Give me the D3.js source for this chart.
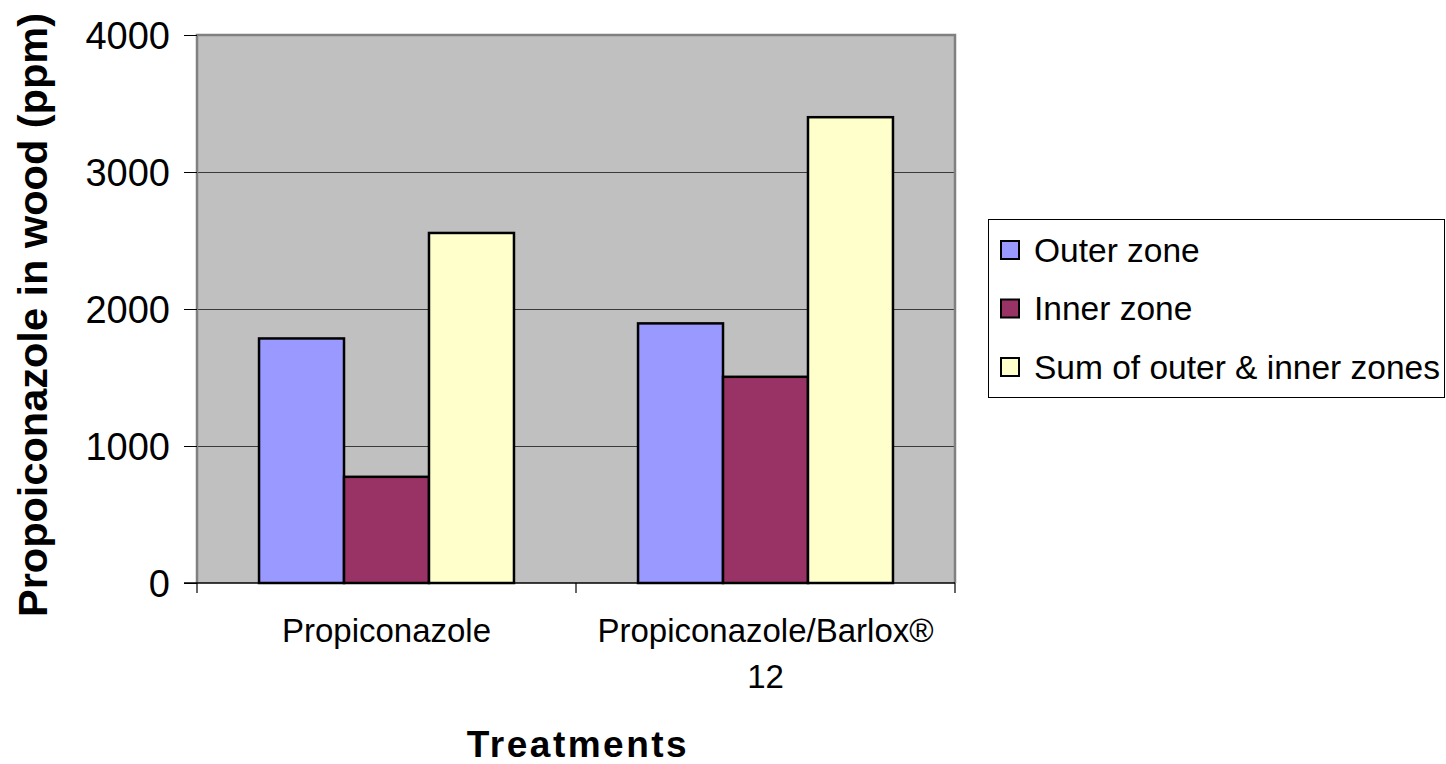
<!DOCTYPE html>
<html>
<head>
<meta charset="utf-8">
<script src="https://cdn.jsdelivr.net/npm/d3@7"></script>
<style>
  html, body { margin: 0; padding: 0; background: #fff; }
  svg { display: block; font-family: "Liberation Sans", Arial, sans-serif; }
</style>
</head>
<body>
<svg id="chart" width="1446" height="764"></svg>
<script>
// Treatments on the x axis and the three measured series
const treatments = ["Propiconazole", "Propiconazole/Barlox® 12"];
const treatmentLines = [["Propiconazole"], ["Propiconazole/Barlox®", "12"]];
const seriesNames = ["Outer zone", "Inner zone", "Sum of outer & inner zones"];
const seriesColors = ["#9999FF", "#993366", "#FFFFCC"];
const outerZone = [1785, 1895];
const innerZone = [775, 1505];
const sumZones = [2555, 3400];
const yTicks = [0, 1000, 2000, 3000, 4000];

const seriesValues = [outerZone, innerZone, sumZones];

const svg = d3.select("#chart");
const plot = { left: 197, right: 955, top: 35, bottom: 583 };

const x0 = d3.scaleBand().domain(treatments).range([plot.left, plot.right]).padding(0);
const x1 = d3.scaleBand().domain(seriesNames).range([0, x0.bandwidth()])
  .paddingInner(0).paddingOuter(0.73);
const y = d3.scaleLinear().domain([0, 4000]).range([plot.bottom, plot.top]);

// plot background
svg.append("rect")
  .attr("x", plot.left).attr("y", plot.top)
  .attr("width", plot.right - plot.left).attr("height", plot.bottom - plot.top)
  .attr("fill", "#C0C0C0");

// horizontal gridlines
svg.append("g").selectAll("line")
  .data(yTicks.filter(t => t > 0 && t < 4000))
  .join("line")
  .attr("x1", plot.left).attr("x2", plot.right)
  .attr("y1", d => Math.round(y(d)) + 0.5).attr("y2", d => Math.round(y(d)) + 0.5)
  .attr("stroke", "#3a3a3a").attr("stroke-width", 1);

// plot frame (top / right / left in grey)
svg.append("path")
  .attr("d", `M${plot.left},${plot.bottom} V${plot.top} H${plot.right} V${plot.bottom}`)
  .attr("fill", "none").attr("stroke", "#808080").attr("stroke-width", 2.5);

// bars
const groups = svg.append("g").selectAll("g")
  .data(treatments)
  .join("g")
  .attr("transform", d => `translate(${x0(d)},0)`);

groups.selectAll("rect")
  .data((d, i) => seriesNames.map((s, k) => ({ s, k, v: seriesValues[k][i] })))
  .join("rect")
  .attr("x", d => x1(d.s))
  .attr("width", x1.bandwidth())
  .attr("y", d => y(d.v))
  .attr("height", d => y(0) - y(d.v))
  .attr("fill", d => seriesColors[d.k])
  .attr("stroke", "#000").attr("stroke-width", 2.5);

// y axis
const yAxis = d3.axisLeft(y).tickValues(yTicks).tickFormat(d3.format("d"))
  .tickSize(13).tickPadding(14).tickSizeOuter(0);
const gy = svg.append("g").attr("transform", `translate(${plot.left},0)`).call(yAxis);
gy.select(".domain").remove();
gy.selectAll(".tick line").attr("stroke", "#000");
gy.selectAll(".tick text")
  .attr("font-family", "Liberation Sans, Arial, sans-serif")
  .attr("font-size", 38).attr("fill", "#000").attr("dy", "0.35em");

// x axis line and ticks at band boundaries
svg.append("line")
  .attr("x1", plot.left - 13).attr("x2", plot.right)
  .attr("y1", plot.bottom).attr("y2", plot.bottom)
  .attr("stroke", "#000").attr("stroke-width", 1.5);
const xBounds = treatments.map(t => x0(t)).concat([plot.right]);
svg.append("g").selectAll("line")
  .data(xBounds)
  .join("line")
  .attr("x1", d => d).attr("x2", d => d)
  .attr("y1", plot.bottom).attr("y2", plot.bottom + 10)
  .attr("stroke", "#000").attr("stroke-width", 1.2);

// category labels
svg.append("g").selectAll("text")
  .data(treatments)
  .join("text")
  .attr("x", d => x0(d) + x0.bandwidth() / 2)
  .attr("y", 642)
  .attr("text-anchor", "middle")
  .attr("font-size", 33)
  .attr("fill", "#000")
  .each(function (d, i) {
    d3.select(this).selectAll("tspan")
      .data(treatmentLines[i])
      .join("tspan")
      .attr("x", x0(d) + x0.bandwidth() / 2)
      .attr("dy", (l, j) => j === 0 ? 0 : 46)
      .text(l => l);
  });

// axis titles
svg.append("text")
  .attr("x", 578).attr("y", 757)
  .attr("text-anchor", "middle")
  .attr("font-size", 37).attr("font-weight", "bold")
  .attr("letter-spacing", 2.5)
  .text("Treatments");

svg.append("text")
  .attr("transform", "translate(47,315) rotate(-90)")
  .attr("text-anchor", "middle")
  .attr("font-size", 41.5).attr("font-weight", "bold")
  .text("Propoiconazole in wood (ppm)");

// legend
const legend = svg.append("g");
legend.append("rect")
  .attr("x", 988.5).attr("y", 219.5).attr("width", 456).attr("height", 178)
  .attr("fill", "#fff").attr("stroke", "#000").attr("stroke-width", 1);
const rows = legend.selectAll("g.item")
  .data(seriesNames)
  .join("g").attr("class", "item")
  .attr("transform", (d, i) => `translate(0,${250 + i * 58.5})`);
rows.append("rect")
  .attr("x", 1001).attr("y", -9).attr("width", 18).attr("height", 18)
  .attr("fill", (d, i) => seriesColors[i])
  .attr("stroke", "#000").attr("stroke-width", 2);
rows.append("text")
  .attr("x", 1034).attr("y", 0).attr("dy", "0.35em")
  .attr("font-size", 33.5).attr("fill", "#000")
  .text(d => d);
</script>
</body>
</html>
